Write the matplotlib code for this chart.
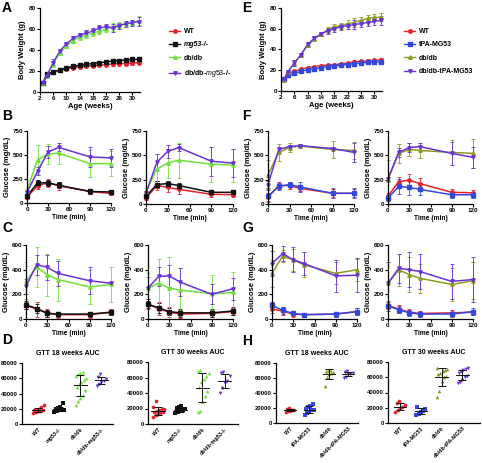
import matplotlib
matplotlib.use('agg')
import matplotlib.pyplot as plt
import numpy as np

plt.rcParams['font.family'] = ['Liberation Sans', 'DejaVu Sans']
plt.rcParams['mathtext.fontset'] = 'custom'
plt.rcParams['mathtext.it'] = 'Liberation Sans:italic'
plt.rcParams['mathtext.rm'] = 'Liberation Sans'

W, H = 482, 463

# colours
RED = '#e8232b'
BLACK = '#111111'
GREEN = '#6fe03c'
PURPLE = '#6a33d8'
BLUE = '#3348e0'
OLIVE = '#8c9a22'

# body weight data (weeks)
weeks = [3, 4, 6, 8, 10, 12, 14, 16, 18, 20, 22, 24, 26, 28, 30, 32]
bw_wt = [9, 17, 19, 21, 22, 23, 24, 24.5, 25, 25.5, 26, 26.5, 27, 27, 27.5, 28]
bw_mg53 = [9, 17, 19, 21, 23, 24.5, 25.5, 26.5, 27, 28, 28.5, 29.5, 30, 30.5, 31, 31]
bw_db = [9, 15, 27, 37, 44, 49, 52, 54, 56, 58, 60, 62, 64, 65, 66, 68]
bw_dbmg = [9, 15, 28, 39, 46, 51, 54, 56, 58, 61, 62, 61, 63, 65, 66, 67]
bw_err_small = [1, 1, 1, 1, 1, 1, 1, 1, 1, 1, 1, 1.5, 1.5, 1.5, 1.5, 1.5]
bw_err_big = [1, 2, 3, 2, 2, 2, 2, 3, 3, 3, 3, 4, 3, 3, 3, 4]

bw_wt2 = [11, 17, 19, 21, 22.5, 23.5, 24.5, 25, 25.5, 26, 27, 28, 28.5, 29, 29.5, 30]
bw_tpa = [12, 15, 17, 19, 20.5, 21.5, 22.5, 23.5, 24, 25, 25.5, 26.5, 27, 27.5, 28, 28]
bw_db2 = [11, 18, 27, 35, 44, 50, 55, 59, 62, 63, 65, 66, 68, 70, 71, 71]
bw_dbtpa = [12, 18, 27, 35, 45, 51, 55, 58, 60, 62, 63, 64, 65, 66, 67, 68]

# glucose tolerance / insulin tolerance data
tmin = [0, 15, 30, 45, 90, 120]
b1 = {'wt': [60, 180, 210, 180, 120, 100], 'ko': [70, 210, 210, 185, 120, 115],
      'db': [130, 450, 510, 520, 410, 410], 'dbko': [110, 330, 530, 580, 480, 470]}
b1_err = {'wt': [15, 30, 40, 40, 30, 20], 'ko': [15, 30, 30, 30, 25, 25],
          'db': [30, 150, 100, 110, 140, 130], 'dbko': [20, 40, 60, 40, 100, 90]}
b2 = {'wt': [60, 190, 170, 150, 100, 95], 'ko': [80, 200, 210, 190, 120, 120],
      'db': [130, 360, 420, 450, 410, 400], 'dbko': [110, 430, 540, 580, 440, 420]}
b2_err = {'wt': [20, 50, 50, 50, 30, 25], 'ko': [20, 40, 30, 30, 25, 25],
          'db': [30, 150, 150, 180, 180, 170], 'dbko': [20, 80, 70, 40, 150, 140]}
c1 = {'wt': [110, 80, 50, 35, 35, 55], 'ko': [115, 85, 45, 40, 40, 55],
      'db': [310, 420, 360, 320, 260, 280], 'dbko': [265, 440, 420, 370, 310, 290]}
c1_err = {'wt': [30, 60, 35, 25, 25, 25], 'ko': [30, 40, 30, 20, 20, 20],
          'db': [150, 160, 170, 170, 140, 140], 'dbko': [60, 80, 100, 100, 110, 10]}
c2 = {'wt': [120, 85, 55, 40, 45, 60], 'ko': [120, 90, 60, 50, 50, 65],
      'db': [250, 290, 250, 235, 205, 215], 'dbko': [250, 345, 350, 300, 200, 245]}
c2_err = {'wt': [40, 50, 40, 30, 30, 30], 'ko': [30, 40, 30, 30, 30, 30],
          'db': [120, 200, 250, 180, 150, 170], 'dbko': [90, 80, 90, 110, 80, 90]}
f1 = {'wt': [70, 190, 190, 160, 110, 110], 'ko': [80, 180, 200, 175, 110, 110],
      'db': [300, 530, 580, 595, 560, 550], 'dbko': [200, 560, 590, 600, 570, 530]}
f1_err = {'wt': [40, 40, 40, 30, 40, 40], 'ko': [60, 40, 30, 50, 50, 50],
          'db': [150, 90, 50, 20, 90, 90], 'dbko': [40, 30, 20, 15, 20, 100]}
f2 = {'wt': [80, 230, 245, 210, 120, 115], 'ko': [60, 180, 170, 150, 95, 95],
      'db': [250, 520, 560, 550, 530, 520], 'dbko': [260, 530, 580, 590, 520, 480]}
f2_err = {'wt': [30, 50, 60, 60, 30, 30], 'ko': [30, 80, 80, 60, 30, 30],
          'db': [200, 100, 70, 80, 130, 150], 'dbko': [20, 50, 50, 40, 120, 110]}
g1 = {'wt': [80, 65, 40, 35, 40, 60], 'ko': [110, 70, 45, 35, 40, 60],
      'db': [370, 510, 480, 440, 370, 400], 'dbko': [450, 530, 480, 450, 350, 355]}
g1_err = {'wt': [30, 30, 20, 15, 20, 30], 'ko': [30, 30, 20, 15, 20, 30],
          'db': [110, 50, 90, 100, 90, 90], 'dbko': [100, 60, 100, 90, 130, 140]}
g2 = {'wt': [110, 80, 55, 45, 50, 55], 'ko': [105, 75, 50, 40, 40, 60],
      'db': [290, 400, 360, 330, 280, 310], 'dbko': [290, 410, 400, 385, 305, 320]}
g2_err = {'wt': [30, 30, 25, 20, 20, 20], 'ko': [40, 30, 25, 20, 20, 30],
          'db': [170, 130, 140, 120, 130, 150], 'dbko': [170, 120, 140, 140, 140, 180]}

# AUC data
auc_d1 = [[15000, 16000, 17000, 17500, 18000, 18500, 19000, 20000, 22000, 25000],
          [16000, 17000, 18000, 18500, 19000, 20000, 21000, 22000, 27000],
          [25000, 30000, 34000, 38000, 45000, 48000, 52000, 55000, 58000, 60000, 63000, 65000, 67000, 68000],
          [50000, 53000, 55000, 57000, 59000, 62000, 65000]]
auc_d2 = [[9000, 11000, 13000, 14000, 15000, 16000, 17000, 18000, 19000, 20000, 22000, 30000],
          [14000, 15000, 17000, 18000, 19000, 21000, 22000, 23000],
          [15000, 17000, 28000, 36000, 42000, 48000, 54000, 58000, 62000, 66000, 68000, 70000],
          [40000, 47000, 53000, 56000, 62000, 66000, 67000]]
auc_h1 = [[15000, 16000, 16500, 17000, 18000, 19000, 20000],
          [11000, 13000, 15000, 17000, 18000, 19000, 21000, 23000, 25000],
          [50000, 62000, 65000, 67000, 68000, 69000, 70000, 71000],
          [60000, 62000, 65000, 66000, 67000, 68000, 69000]]
auc_h2 = [[15000, 17000, 20000, 21000, 23000, 26000, 29000],
          [10000, 12000, 14000, 16000, 19000, 21000],
          [34000, 42000, 55000, 60000, 62000, 64000, 66000, 68000, 70000, 71000, 72000],
          [52000, 54000, 57000, 60000, 62000, 65000, 68000, 70000, 71000, 72000]]

lab_left = ['WT', 'mg53-/-', 'db/db', 'db/db-mg53-/-']
lab_right = ['WT', 'tPA-MG53', 'db/db', 'db/db-tPA-MG53']
col_left = [RED, BLACK, GREEN, PURPLE]
col_right = [RED, BLUE, OLIVE, PURPLE]
mk = ['o', 's', '^', 'v']
keys = ['wt', 'ko', 'db', 'dbko']

fig = plt.figure(figsize=(W / 100, H / 100), dpi=100)


def ax_px(l, t, r, b):
    return fig.add_axes([l / W, 1 - b / H, (r - l) / W, (b - t) / H])


def style(ax, fs=4.5):
    for s in ['top', 'right']:
        ax.spines[s].set_visible(False)
    for s in ['left', 'bottom']:
        ax.spines[s].set_linewidth(0.9)
    ax.tick_params(labelsize=fs, length=2, width=0.8, pad=1)
    for t in ax.get_xticklabels() + ax.get_yticklabels():
        t.set_fontweight('bold')


def weight_panel(ax, series, cols, errs):
    for y, c, m, e in zip(series, cols, mk, errs):
        ax.errorbar(weeks, y, yerr=e, color=c, marker=m, ms=2.5, lw=1.0,
                    elinewidth=0.6, capsize=1.2, capthick=0.6, clip_on=False)
    ax.set_xlim(2, 32.3)
    ax.set_ylim(0, 80)
    ax.set_xticks([2, 6, 10, 14, 18, 22, 26, 30])
    ax.set_yticks([0, 20, 40, 60, 80])
    ax.set_xlabel('Age (weeks)', fontsize=5.5, fontweight='bold', labelpad=1)
    ax.set_ylabel('Body Weight (g)', fontsize=5.5, fontweight='bold', labelpad=2)
    style(ax)


def gtt_panel(ax, d, e, cols, ymax, yticks):
    for k, c, m in zip(keys, cols, mk):
        ax.errorbar(tmin, d[k], yerr=e[k], color=c, marker=m, ms=2.4, lw=1.1,
                    elinewidth=0.6, capsize=1.3, capthick=0.6, clip_on=False)
    ax.set_xlim(0, 120)
    ax.set_ylim(0, ymax)
    ax.set_xticks([0, 30, 60, 90, 120])
    ax.set_yticks(yticks)
    ax.set_xlabel('Time (min)', fontsize=4.8, fontweight='bold', labelpad=1)
    ax.set_ylabel('Glucose (mg/dL)', fontsize=5.5, fontweight='bold', labelpad=1)
    style(ax)


def auc_panel(ax, groups, cols, labels, title, xlim):
    for i, (g, c, m) in enumerate(zip(groups, cols, mk)):
        g = np.array(g, dtype=float)
        n = len(g)
        idx = np.arange(n)
        off = ((idx % 5) - 2) * 0.11 + ((idx // 5) % 2) * 0.055
        ax.scatter(i + off, g, s=7, color=c, marker=m, linewidths=0, zorder=2)
        mu, sd = g.mean(), g.std()
        ax.plot([i - 0.3, i + 0.3], [mu, mu], color=BLACK, lw=0.7, zorder=3)
        ax.errorbar([i], [mu], yerr=[sd], color=BLACK, lw=0, elinewidth=0.7,
                    capsize=3, capthick=0.7, zorder=3)
    ax.set_xlim(*xlim)
    ax.set_ylim(0, 80000)
    ax.set_yticks([0, 20000, 40000, 60000, 80000])
    ax.set_xticks(range(4))
    ax.set_xticklabels(labels, rotation=45, ha='right', rotation_mode='anchor')
    ax.set_title(title, fontsize=5, fontweight='bold', pad=6)
    style(ax, fs=4.2)
    ax.tick_params(axis='x', length=0, pad=2, labelsize=3.9)
    for t in ax.get_xticklabels():
        if t.get_text().startswith('mg53'):
            t.set_fontstyle('italic')


# A
axA = ax_px(40, 8, 140, 92)
weight_panel(axA, [bw_wt, bw_mg53, bw_db, bw_dbmg], col_left,
             [bw_err_small, bw_err_small, bw_err_big, bw_err_big])
hA = [plt.Line2D([], [], color=c, marker=m, ms=2.5, lw=1.0) for c, m in zip(col_left, mk)]
legA = fig.legend(hA, ['WT', 'mg53-/-', 'db/db', r'db/db-$\mathit{mg53}$-/-'],
                  loc='upper left', bbox_to_anchor=(163 / W, 1 - 22 / H), frameon=False,
                  fontsize=5, handlelength=1.6, labelspacing=0.9, handletextpad=0.5)
legA.get_texts()[1].set_fontstyle('italic')
for t in legA.get_texts():
    t.set_fontweight('bold')

# E
axE = ax_px(281, 8, 382, 91)
weight_panel(axE, [bw_wt2, bw_tpa, bw_db2, bw_dbtpa], col_right,
             [bw_err_small, bw_err_small, bw_err_big, bw_err_big])
hE = [plt.Line2D([], [], color=c, marker=m, ms=2.5, lw=1.0) for c, m in zip(col_right, mk)]
legE = fig.legend(hE, lab_right, loc='upper left', bbox_to_anchor=(398 / W, 1 - 22 / H),
                  frameon=False, fontsize=5, handlelength=1.6, labelspacing=0.9,
                  handletextpad=0.5)
for t in legE.get_texts():
    t.set_fontweight('bold')

# B, F
gtt_panel(ax_px(27, 131, 111, 203), b1, b1_err, col_left, 750, [0, 250, 500, 750])
gtt_panel(ax_px(146, 131, 233, 204), b2, b2_err, col_left, 750, [0, 250, 500, 750])
gtt_panel(ax_px(268, 131, 354, 204), f1, f1_err, col_right, 750, [0, 250, 500, 750])
gtt_panel(ax_px(388, 131, 473, 204), f2, f2_err, col_right, 750, [0, 250, 500, 750])
# C, G
gtt_panel(ax_px(26, 245, 111, 319), c1, c1_err, col_left, 600, [0, 200, 400, 600])
gtt_panel(ax_px(148, 245, 233, 319), c2, c2_err, col_left, 600, [0, 200, 400, 600])
gtt_panel(ax_px(272, 245, 357, 319), g1, g1_err, col_right, 600, [0, 200, 400, 600])
gtt_panel(ax_px(388, 245, 473, 319), g2, g2_err, col_right, 600, [0, 200, 400, 600])

# D, H
auc_panel(ax_px(22, 363, 113, 424), auc_d1, col_left, lab_left, 'GTT 18 weeks AUC', (-0.75, 3.55))
auc_panel(ax_px(148, 362, 238, 424), auc_d2, col_left, lab_left, 'GTT 30 weeks AUC', (-0.45, 3.6))
auc_panel(ax_px(276, 363, 358, 423), auc_h1, col_right, lab_right, 'GTT 18 weeks AUC', (-0.72, 3.5))
auc_panel(ax_px(388, 362, 480, 423), auc_h2, col_right, lab_right, 'GTT 30 weeks AUC', (-0.58, 3.85))

# panel letters
for let, x, y in [('A', 2, 1), ('E', 242, 1), ('B', 2, 109), ('F', 242, 109),
                  ('C', 2, 221), ('G', 242, 221), ('D', 2, 333), ('H', 242, 334)]:
    fig.text(x / W, 1 - y / H, let, fontsize=10, fontweight='bold', va='top', ha='left')

fig.savefig('out.png', dpi=100)
